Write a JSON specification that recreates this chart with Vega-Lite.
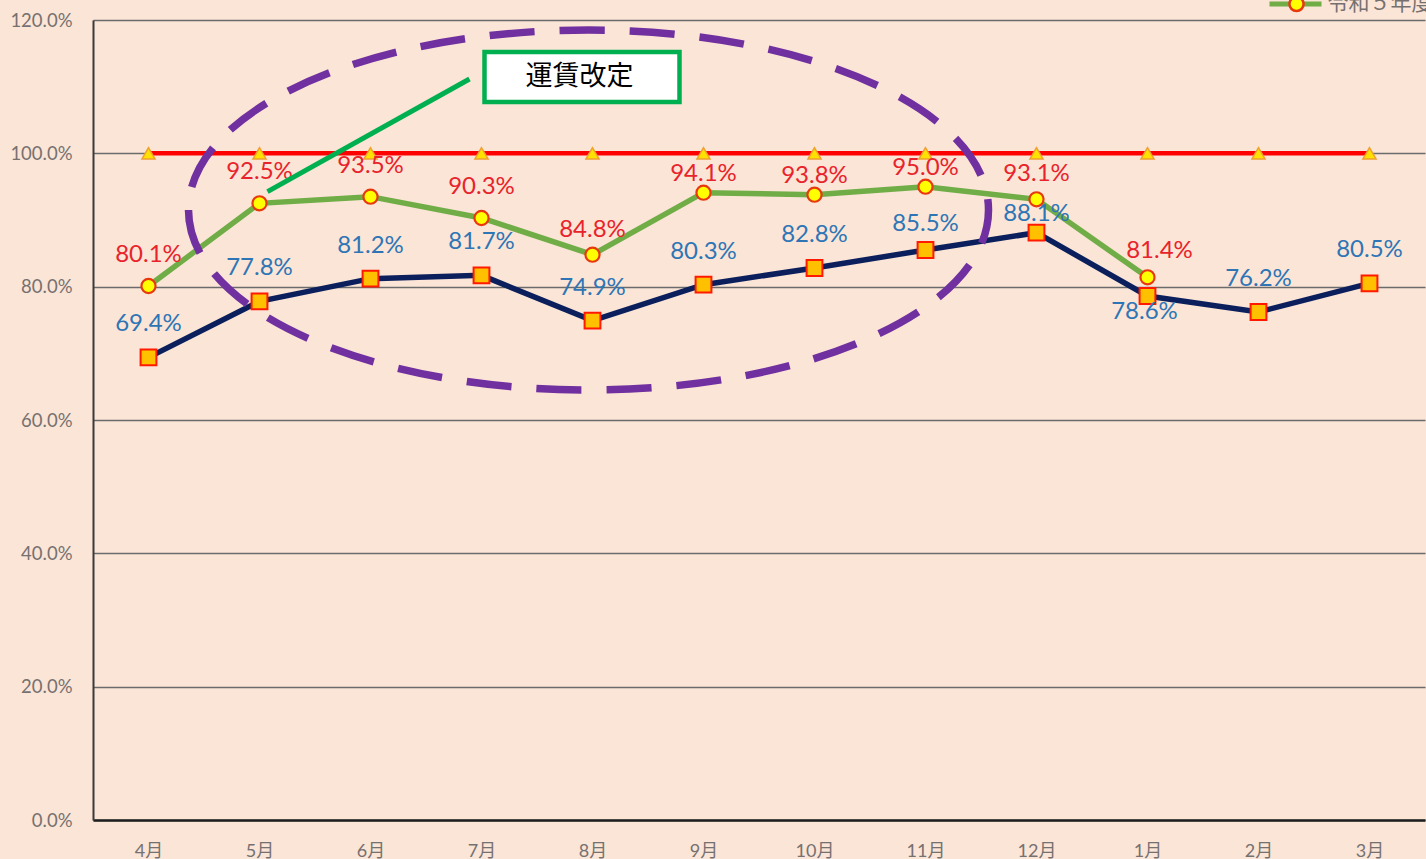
{
  "$schema": "https://vega.github.io/schema/vega-lite/v6.json",
  "width": 1332,
  "height": 800,
  "autosize": {"type": "none"},
  "padding": {"left": 93, "top": 20, "right": 1, "bottom": 39},
  "background": "#FBE5D6",
  "config": {"view": {"stroke": null}, "font": "Lato"},
  "datasets": {
    "rates": [
      {"series": "令和元年度", "month": "4月", "value": 1.0},
      {"series": "令和元年度", "month": "5月", "value": 1.0},
      {"series": "令和元年度", "month": "6月", "value": 1.0},
      {"series": "令和元年度", "month": "7月", "value": 1.0},
      {"series": "令和元年度", "month": "8月", "value": 1.0},
      {"series": "令和元年度", "month": "9月", "value": 1.0},
      {"series": "令和元年度", "month": "10月", "value": 1.0},
      {"series": "令和元年度", "month": "11月", "value": 1.0},
      {"series": "令和元年度", "month": "12月", "value": 1.0},
      {"series": "令和元年度", "month": "1月", "value": 1.0},
      {"series": "令和元年度", "month": "2月", "value": 1.0},
      {"series": "令和元年度", "month": "3月", "value": 1.0},
      {"series": "令和４年度", "month": "4月", "value": 0.694},
      {"series": "令和４年度", "month": "5月", "value": 0.778},
      {"series": "令和４年度", "month": "6月", "value": 0.812},
      {"series": "令和４年度", "month": "7月", "value": 0.817},
      {"series": "令和４年度", "month": "8月", "value": 0.749},
      {"series": "令和４年度", "month": "9月", "value": 0.803},
      {"series": "令和４年度", "month": "10月", "value": 0.828},
      {"series": "令和４年度", "month": "11月", "value": 0.855},
      {"series": "令和４年度", "month": "12月", "value": 0.881},
      {"series": "令和４年度", "month": "1月", "value": 0.786},
      {"series": "令和４年度", "month": "2月", "value": 0.762},
      {"series": "令和４年度", "month": "3月", "value": 0.805},
      {"series": "令和５年度", "month": "4月", "value": 0.801},
      {"series": "令和５年度", "month": "5月", "value": 0.925},
      {"series": "令和５年度", "month": "6月", "value": 0.935},
      {"series": "令和５年度", "month": "7月", "value": 0.903},
      {"series": "令和５年度", "month": "8月", "value": 0.848},
      {"series": "令和５年度", "month": "9月", "value": 0.941},
      {"series": "令和５年度", "month": "10月", "value": 0.938},
      {"series": "令和５年度", "month": "11月", "value": 0.950},
      {"series": "令和５年度", "month": "12月", "value": 0.931},
      {"series": "令和５年度", "month": "1月", "value": 0.814}
    ]
  },
  "data": {"name": "rates"},
  "layer": [
    {
      "transform": [{"filter": "datum.series === '令和元年度'"}],
      "mark": {"type": "line", "color": "#FF0000", "strokeWidth": 4.5},
      "encoding": {
        "x": {
          "field": "month", "type": "ordinal",
          "scale": {"type": "point", "padding": 0.5, "domain": ["4月","5月","6月","7月","8月","9月","10月","11月","12月","1月","2月","3月"]},
          "axis": {"title": null, "labelAngle": 0, "ticks": false, "domainColor": "#1E1E1E", "domainWidth": 2.5, "labelPadding": 22, "labelFontSize": 18, "labelColor": "#767171", "labelFont": "Lato, Noto Sans CJK JP", "grid": false}
        },
        "y": {
          "field": "value", "type": "quantitative",
          "scale": {"domain": [0, 1.2], "nice": false, "zero": true},
          "axis": {"title": null, "format": ".1%", "values": [0, 0.2, 0.4, 0.6, 0.8, 1.0, 1.2], "grid": true, "gridColor": "#6B6B6B", "gridWidth": 1.3, "ticks": false, "domainColor": "#3A3A3A", "domainWidth": 2, "labelPadding": 21, "labelFontSize": 18.5, "labelColor": "#767171", "labelFont": "Lato"}
        }
      }
    },
    {
      "transform": [{"filter": "datum.series === '令和元年度'"}],
      "mark": {"type": "point", "shape": "triangle-up", "filled": true, "size": 170, "fill": "#FFE100", "stroke": "#EFA02E", "strokeWidth": 1.5, "opacity": 1},
      "encoding": {"x": {"field": "month", "type": "ordinal"}, "y": {"field": "value", "type": "quantitative"}}
    },
    {
      "transform": [{"filter": "datum.series === '令和４年度'"}],
      "mark": {"type": "line", "color": "#0B1F5C", "strokeWidth": 5.5},
      "encoding": {"x": {"field": "month", "type": "ordinal"}, "y": {"field": "value", "type": "quantitative"}}
    },
    {
      "transform": [{"filter": "datum.series === '令和４年度'"}],
      "mark": {"type": "point", "shape": "square", "filled": true, "size": 250, "fill": "#FFC000", "stroke": "#FF1A00", "strokeWidth": 2, "opacity": 1},
      "encoding": {"x": {"field": "month", "type": "ordinal"}, "y": {"field": "value", "type": "quantitative"}}
    },
    {
      "transform": [{"filter": "datum.series === '令和５年度'"}],
      "mark": {"type": "line", "color": "#70AD47", "strokeWidth": 5.5},
      "encoding": {"x": {"field": "month", "type": "ordinal"}, "y": {"field": "value", "type": "quantitative"}}
    },
    {
      "transform": [{"filter": "datum.series === '令和５年度'"}],
      "mark": {"type": "point", "shape": "circle", "filled": true, "size": 200, "fill": "#FFFF00", "stroke": "#E8380D", "strokeWidth": 2.2, "opacity": 1},
      "encoding": {"x": {"field": "month", "type": "ordinal"}, "y": {"field": "value", "type": "quantitative"}}
    },
    {
      "transform": [{"filter": "datum.series === '令和５年度' && indexof(['4月','5月','6月','7月'], datum.month) >= 0"}],
      "mark": {"type": "text", "dy": -31, "fontSize": 24, "color": "#E8232B", "baseline": "middle", "font": "Lato"},
      "encoding": {"x": {"field": "month", "type": "ordinal"}, "y": {"field": "value", "type": "quantitative"}, "text": {"field": "value", "type": "quantitative", "format": ".1%"}}
    },
    {
      "transform": [{"filter": "datum.series === '令和５年度' && indexof(['8月','12月'], datum.month) >= 0"}],
      "mark": {"type": "text", "dy": -25, "fontSize": 24, "color": "#E8232B", "baseline": "middle", "font": "Lato"},
      "encoding": {"x": {"field": "month", "type": "ordinal"}, "y": {"field": "value", "type": "quantitative"}, "text": {"field": "value", "type": "quantitative", "format": ".1%"}}
    },
    {
      "transform": [{"filter": "datum.series === '令和５年度' && indexof(['9月','10月','11月'], datum.month) >= 0"}],
      "mark": {"type": "text", "dy": -19, "fontSize": 24, "color": "#E8232B", "baseline": "middle", "font": "Lato"},
      "encoding": {"x": {"field": "month", "type": "ordinal"}, "y": {"field": "value", "type": "quantitative"}, "text": {"field": "value", "type": "quantitative", "format": ".1%"}}
    },
    {
      "transform": [{"filter": "datum.series === '令和５年度' && datum.month === '1月'"}],
      "mark": {"type": "text", "dy": -26, "dx": 12, "fontSize": 24, "color": "#E8232B", "baseline": "middle", "font": "Lato"},
      "encoding": {"x": {"field": "month", "type": "ordinal"}, "y": {"field": "value", "type": "quantitative"}, "text": {"field": "value", "type": "quantitative", "format": ".1%"}}
    },
    {
      "transform": [{"filter": "datum.series === '令和４年度' && indexof(['11月','12月','1月'], datum.month) < 0"}],
      "mark": {"type": "text", "dy": -33, "fontSize": 24, "color": "#2E75B6", "baseline": "middle", "font": "Lato"},
      "encoding": {"x": {"field": "month", "type": "ordinal"}, "y": {"field": "value", "type": "quantitative"}, "text": {"field": "value", "type": "quantitative", "format": ".1%"}}
    },
    {
      "transform": [{"filter": "datum.series === '令和４年度' && datum.month === '11月'"}],
      "mark": {"type": "text", "dy": -26, "fontSize": 24, "color": "#2E75B6", "baseline": "middle", "font": "Lato"},
      "encoding": {"x": {"field": "month", "type": "ordinal"}, "y": {"field": "value", "type": "quantitative"}, "text": {"field": "value", "type": "quantitative", "format": ".1%"}}
    },
    {
      "transform": [{"filter": "datum.series === '令和４年度' && datum.month === '12月'"}],
      "mark": {"type": "text", "dy": -19, "fontSize": 24, "color": "#2E75B6", "baseline": "middle", "font": "Lato"},
      "encoding": {"x": {"field": "month", "type": "ordinal"}, "y": {"field": "value", "type": "quantitative"}, "text": {"field": "value", "type": "quantitative", "format": ".1%"}}
    },
    {
      "transform": [{"filter": "datum.series === '令和４年度' && datum.month === '1月'"}],
      "mark": {"type": "text", "dy": 16, "dx": -3, "fontSize": 24, "color": "#2E75B6", "baseline": "middle", "font": "Lato"},
      "encoding": {"x": {"field": "month", "type": "ordinal"}, "y": {"field": "value", "type": "quantitative"}, "text": {"field": "value", "type": "quantitative", "format": ".1%"}}
    },
    {
      "data": {"values": [{"note": "運賃改定"}]},
      "mark": {"type": "point", "shape": "M-1,0A1,0.45,0,1,0,1,0A1,0.45,0,1,0,-1,0Z", "size": 640000, "filled": false, "stroke": "#7030A0", "strokeWidth": 7.5, "strokeDash": [45, 25], "xOffset": -4, "opacity": 1},
      "encoding": {"x": {"datum": "8月", "type": "ordinal"}, "y": {"datum": 0.915, "type": "quantitative"}}
    },
    {
      "data": {"values": [{"note": "運賃改定"}]},
      "mark": {"type": "rule", "color": "#00B050", "strokeWidth": 5, "xOffset": 8, "x2Offset": -12},
      "encoding": {
        "x": {"datum": "5月", "type": "ordinal"},
        "x2": {"datum": "7月"},
        "y": {"datum": 0.9425, "type": "quantitative"},
        "y2": {"datum": 1.1115}
      }
    },
    {
      "data": {"values": [{"note": "運賃改定"}]},
      "mark": {"type": "point", "shape": "M-1,-0.2564H1V0.2564H-1Z", "size": 38025, "filled": true, "fill": "#FFFFFF", "stroke": "#00B050", "strokeWidth": 4.5, "xOffset": -10.5, "opacity": 1},
      "encoding": {"x": {"datum": "8月", "type": "ordinal"}, "y": {"datum": 1.1145, "type": "quantitative"}}
    },
    {
      "data": {"values": [{"note": "運賃改定"}]},
      "mark": {"type": "text", "fontSize": 27, "color": "#000000", "font": "Noto Sans CJK JP", "fontWeight": "normal", "baseline": "middle", "align": "center", "dx": -13},
      "encoding": {"x": {"datum": "8月", "type": "ordinal"}, "y": {"datum": 1.1145, "type": "quantitative"}, "text": {"field": "note"}}
    },
    {
      "data": {"values": [{"series": "令和５年度"}]},
      "mark": {"type": "rule", "color": "#70AD47", "strokeWidth": 5, "xOffset": 11, "x2Offset": 63},
      "encoding": {"x": {"datum": "2月", "type": "ordinal"}, "x2": {"datum": "2月"}, "y": {"datum": 1.224, "type": "quantitative"}}
    },
    {
      "data": {"values": [{"series": "令和５年度"}]},
      "mark": {"type": "point", "shape": "circle", "filled": true, "size": 200, "fill": "#FFFF00", "stroke": "#E8380D", "strokeWidth": 2.5, "xOffset": 38, "opacity": 1},
      "encoding": {"x": {"datum": "2月", "type": "ordinal"}, "y": {"datum": 1.224, "type": "quantitative"}}
    },
    {
      "data": {"values": [{"series": "令和５年度"}]},
      "mark": {"type": "text", "fontSize": 21, "color": "#767171", "font": "Noto Sans CJK JP", "baseline": "middle", "align": "left", "dx": 69},
      "encoding": {"x": {"datum": "2月", "type": "ordinal"}, "y": {"datum": 1.224, "type": "quantitative"}, "text": {"field": "series"}}
    }
  ]
}
